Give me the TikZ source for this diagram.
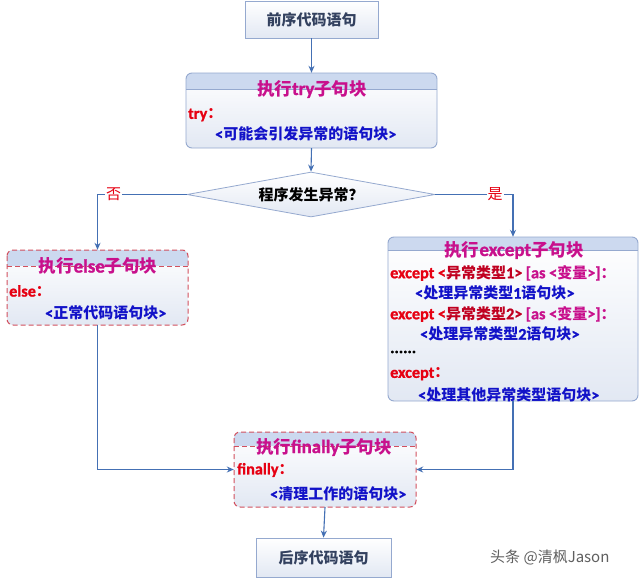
\documentclass[tikz,border=0pt]{standalone}
\usepackage{fontspec}
\setmainfont{Noto Sans CJK SC}
\newfontfamily\latf{Carlito}[Scale=1.08, UprightFont={* Bold}, BoldFont={* Bold}, UprightFeatures={FakeBold=1.2}, BoldFeatures={FakeBold=1.2}]
\usetikzlibrary{arrows.meta,shapes.geometric}
\definecolor{arrowc}{HTML}{4470B4}
\definecolor{boxline}{HTML}{95A9CF}
\definecolor{hdr}{HTML}{CCD9EF}
\definecolor{bodybot}{HTML}{E2E8F3}
\definecolor{dashred}{HTML}{D2505E}
\definecolor{ttl}{HTML}{C8108C}
\definecolor{kred}{HTML}{E60012}
\definecolor{kdred}{HTML}{C00020}
\definecolor{kblue}{HTML}{1212C8}
\definecolor{plaintext}{HTML}{33415F}
\definecolor{wm}{HTML}{606060}
\newcommand{\mylat}[1]{{\latf #1}}
\begin{document}
\begin{tikzpicture}[x=1pt,y=-1pt,
  arr/.style={draw=arrowc, line width=1.1pt, -{Stealth[length=7pt,width=6pt]}},
  plainbox/.style={draw=boxline, line width=0.8pt, top color=white, bottom color=bodybot,
    font=\bfseries\fontsize{15}{18}\selectfont, text=plaintext, inner sep=0pt},
  blockfill/.style={rectangle, rounded corners=6pt, top color=white, bottom color=bodybot, inner sep=0pt},
  solidedge/.style={draw=boxline, line width=0.9pt},
  dashedge/.style={draw=dashred, line width=1pt, dash pattern=on 5pt off 3pt},
  ttltext/.style={text=ttl, font=\bfseries\fontsize{17.5}{20}\selectfont, inner sep=0pt},
  redtext/.style={text=kred, font=\bfseries\fontsize{15}{18}\selectfont, inner sep=0pt, anchor=west},
  bluetext/.style={text=kblue, font=\bfseries\fontsize{15}{18}\selectfont, inner sep=0pt, anchor=west},
  yesno/.style={text=kred, fill=white, font=\fontsize{15}{16}\selectfont, inner sep=1pt}
]
\useasboundingbox (0,0) rectangle (640,578);
\fill[white] (0,0) rectangle (640,578);

% top box
\node[plainbox, minimum width=133pt, minimum height=37pt] (pre) at (311.5,19.5) {前序代码语句};

% try block
\node[blockfill, minimum width=251pt, minimum height=75pt] (try) at (311.5,110.5) {};
\begin{scope}
  \clip[rounded corners=6pt] (186,73) rectangle (437,148);
  \fill[hdr] (186,73) rectangle (437,89);
\end{scope}
\draw[solidedge] (186,89) -- (437,89);
\draw[solidedge, rounded corners=6pt] (186,73) rectangle (437,148);
\node[ttltext] (trytitle) at (312,89) {执行\mylat{try}子句块};
\node[redtext] (trykw) at (188,115) {\mylat{try}：};
\node[bluetext] (trybody) at (215,134) {\mylat{<}可能会引发异常的语句块\mylat{>}};

% decision
\node[diamond, aspect=5.5, minimum width=248pt, minimum height=45pt, inner sep=0pt,
  draw=boxline, line width=0.8pt, top color=white, bottom color=bodybot,
  font=\bfseries\fontsize{15}{18}\selectfont] (dia) at (311,194.5) {程序发生异常？};

% else block
\node[blockfill, minimum width=181pt, minimum height=75pt] (els) at (97.5,287.5) {};
\begin{scope}
  \clip[rounded corners=6pt] (7,250) rectangle (188,325);
  \fill[hdr] (7,250) rectangle (188,266);
\end{scope}
\draw[dashedge] (7,266) -- (188,266);
\draw[dashedge, rounded corners=6pt] (7,250) rectangle (188,325);
\node[ttltext] (elstitle) at (98,266) {执行\mylat{else}子句块};
\node[redtext] (elskw) at (9,291) {\mylat{else}：};
\node[bluetext] (elsbody) at (45,313) {\mylat{<}正常代码语句块\mylat{>}};

% except block
\node[blockfill, minimum width=250pt, minimum height=164pt] (exc) at (513,319) {};
\begin{scope}
  \clip[rounded corners=6pt] (388,237) rectangle (638,401);
  \fill[hdr] (388,237) rectangle (638,250);
\end{scope}
\draw[solidedge] (388,250) -- (638,250);
\draw[solidedge, rounded corners=6pt] (388,237) rectangle (638,401);
\node[ttltext] (exctitle) at (514,250) {执行\mylat{except}子句块};
\node[redtext] (exc1) at (390,273) {\mylat{except <}\textcolor{kdred}{异常类型\mylat{1>}} \textcolor{ttl}{\mylat{[as <}变量\mylat{>]}：}};
\node[bluetext] (exc1b) at (415,293) {\mylat{<}处理异常类型\mylat{1}语句块\mylat{>}};
\node[redtext] (exc2) at (390,314) {\mylat{except <}\textcolor{kdred}{异常类型\mylat{2>}} \textcolor{ttl}{\mylat{[as <}变量\mylat{>]}：}};
\node[bluetext] (exc2b) at (420,334) {\mylat{<}处理异常类型\mylat{2}语句块\mylat{>}};
\node[redtext, text=black] (dots) at (390,352) {\mylat{......}};
\node[redtext] (exc3) at (390,374) {\mylat{except}：};
\node[bluetext] (exc3b) at (418,395) {\mylat{<}处理其他异常类型语句块\mylat{>}};

% finally block
\node[blockfill, minimum width=182pt, minimum height=75pt] (fin) at (325,469.5) {};
\begin{scope}
  \clip[rounded corners=6pt] (234,432) rectangle (416,507);
  \fill[hdr] (234,432) rectangle (416,446);
\end{scope}
\draw[dashedge] (234,446) -- (416,446);
\draw[dashedge, rounded corners=6pt] (234,432) rectangle (416,507);
\node[ttltext] (fintitle) at (324,447) {执行\mylat{finally}子句块};
\node[redtext] (finkw) at (237,470) {\mylat{finally}：};
\node[bluetext] (finbody) at (270,494) {\mylat{<}清理工作的语句块\mylat{>}};

% bottom box
\node[plainbox, minimum width=135pt, minimum height=39pt] (post) at (323.5,557.5) {后序代码语句};

% connectors
\draw[arr] (pre.south) -- (try.north);
\draw[arr] (try.south) -- (dia.north);
\draw[arr] (dia.west) -| node[yesno, pos=0.41] {否} (els.north);
\draw[arr] (dia.east) -| node[yesno, pos=0.385] {是} (exc.north);
\draw[arr] (els.south) |- (fin.west);
\draw[arr] (exc.south) |- (fin.east);
\draw[arr] (fin.south) -- (post.north);

% watermark
\node[anchor=west, text=wm, font=\fontsize{15}{18}\selectfont, inner sep=0pt] (wmk) at (490,557) {头条 @清枫Jason};
\end{tikzpicture}
\end{document}
